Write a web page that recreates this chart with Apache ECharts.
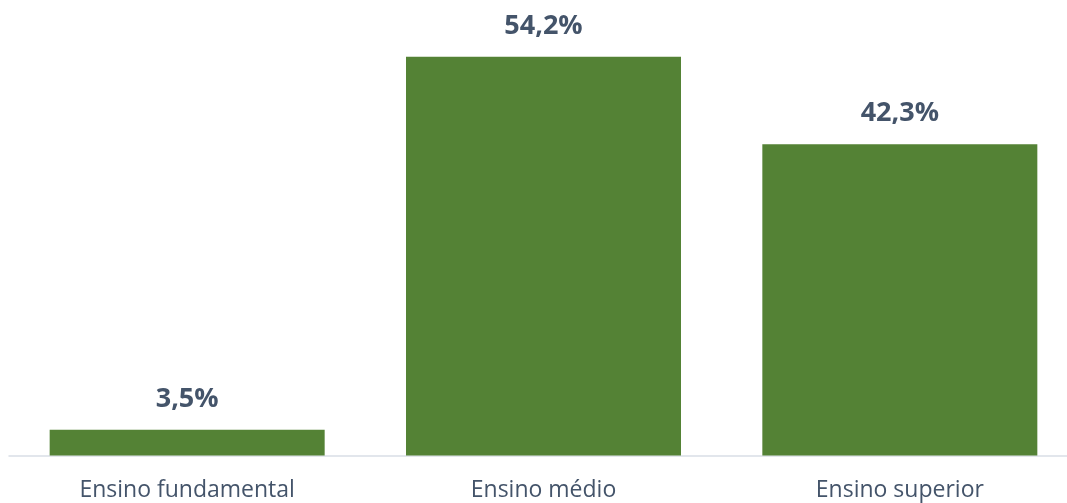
<!DOCTYPE html>
<html>
<head>
<meta charset="utf-8">
<style>
  html, body { margin: 0; padding: 0; background: #ffffff; }
  #chart { width: 1067px; height: 503px; }
</style>
<script src="https://cdn.jsdelivr.net/npm/echarts@6/dist/echarts.min.js"></script>
</head>
<body>
<div id="chart"></div>
<script>
// Escolaridade: share per education level (%)
const categories = ['Ensino fundamental', 'Ensino médio', 'Ensino superior'];
const values = [3.5, 54.2, 42.3];

const textColor = '#44546a';

const chart = echarts.init(document.getElementById('chart'), null, { renderer: 'canvas' });

chart.setOption({
  animation: false,
  grid: {
    left: 9, top: 14, width: 1069, height: 441.5,
    containLabel: false,
    outerBoundsMode: 'none'
  },
  xAxis: {
    type: 'category',
    data: categories,
    axisTick: { show: false },
    axisLine: { show: true, lineStyle: { color: '#d9dee6', width: 1.5 } },
    axisLabel: {
      color: textColor,
      fontFamily: 'Open Sans',
      fontSize: 23,
      margin: 23
    }
  },
  yAxis: {
    type: 'value',
    min: 0,
    max: 60,
    show: false,
    splitLine: { show: false }
  },
  series: [{
    type: 'bar',
    data: values,
    barWidth: 275,
    itemStyle: { color: '#548235' },
    label: {
      show: true,
      position: 'top',
      distance: 17,
      color: textColor,
      fontFamily: 'Open Sans',
      fontWeight: 'bold',
      fontSize: 27,
      formatter: p => p.value.toFixed(1).replace('.', ',') + '%'
    }
  }]
});
</script>
</body>
</html>
